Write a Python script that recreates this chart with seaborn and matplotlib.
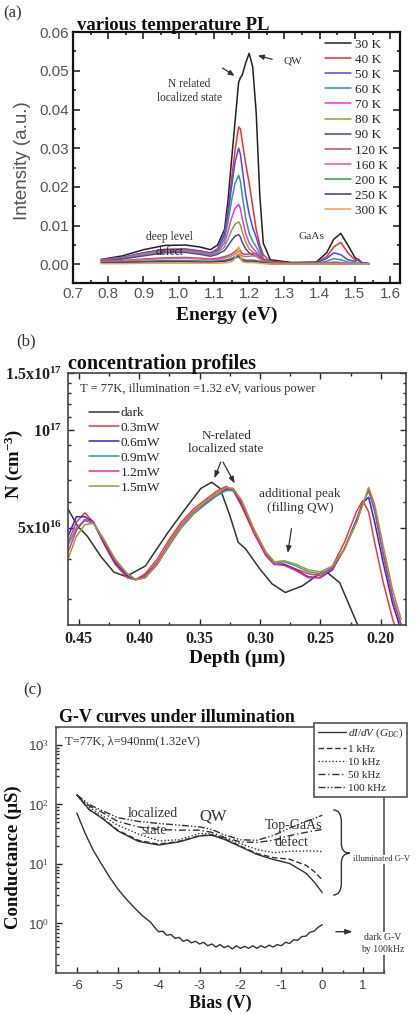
import matplotlib
matplotlib.use("Agg")
import matplotlib.pyplot as plt
import matplotlib.ticker as mticker
from matplotlib.path import Path
from matplotlib.patches import PathPatch
import seaborn as sns
import numpy as np

sns.set_style("ticks")
plt.rcParams["font.family"] = ["Liberation Serif", "DejaVu Serif"]
plt.rcParams["mathtext.fontset"] = "custom"
plt.rcParams["mathtext.rm"] = "Liberation Serif"
plt.rcParams["mathtext.it"] = "Liberation Serif:italic"
plt.rcParams["mathtext.bf"] = "Liberation Serif:bold"

# ---------------- (a) PL spectra ----------------
energy = [0.78, 0.84, 0.90, 0.96, 1.02, 1.06, 1.09, 1.11,
          1.13, 1.14, 1.15, 1.16, 1.17, 1.175, 1.18, 1.19,
          1.20, 1.21, 1.22, 1.23, 1.24, 1.26, 1.32, 1.39,
          1.42, 1.44, 1.46, 1.48, 1.50, 1.51, 1.52, 1.54]
pl_30K = [0.0013, 0.0022, 0.0038, 0.0049, 0.0050, 0.0045, 0.0038, 0.0050,
          0.0090, 0.0166, 0.0270, 0.0370, 0.0470, 0.0482, 0.0488, 0.0520,
          0.0545, 0.0510, 0.0390, 0.0180, 0.0055, 0.0012, 0.0005, 0.0006,
          0.0030, 0.0065, 0.0080, 0.0050, 0.0018, 0.0010, 0.0004, 0.0002]
pl_40K = [0.0012, 0.0018, 0.0030, 0.0039, 0.0040, 0.0035, 0.0030, 0.0040,
          0.0080, 0.0140, 0.0220, 0.0295, 0.0355, 0.0350, 0.0320, 0.0260,
          0.0210, 0.0150, 0.0090, 0.0050, 0.0025, 0.0008, 0.0004, 0.0005,
          0.0020, 0.0045, 0.0057, 0.0030, 0.0012, 0.0014, 0.0005, 0.0002]
pl_50K = [0.0012, 0.0018, 0.0030, 0.0038, 0.0039, 0.0034, 0.0029, 0.0038,
          0.0075, 0.0130, 0.0200, 0.0265, 0.0300, 0.0285, 0.0250, 0.0180,
          0.0130, 0.0095, 0.0070, 0.0040, 0.0015, 0.0006, 0.0003, 0.0004,
          0.0015, 0.0030, 0.0025, 0.0012, 0.0008, 0.0012, 0.0004, 0.0002]
pl_60K = [0.0011, 0.0017, 0.0028, 0.0036, 0.0037, 0.0032, 0.0027, 0.0035,
          0.0065, 0.0110, 0.0165, 0.0210, 0.0230, 0.0215, 0.0180, 0.0120,
          0.0080, 0.0060, 0.0045, 0.0028, 0.0012, 0.0005, 0.0003, 0.0003,
          0.0008, 0.0015, 0.0012, 0.0006, 0.0004, 0.0004, 0.0002, 0.0001]
pl_70K = [0.0011, 0.0016, 0.0027, 0.0035, 0.0036, 0.0031, 0.0026, 0.0032,
          0.0055, 0.0085, 0.0120, 0.0145, 0.0155, 0.0145, 0.0120, 0.0080,
          0.0055, 0.0042, 0.0032, 0.0022, 0.0010, 0.0004, 0.0002, 0.0002,
          0.0004, 0.0006, 0.0005, 0.0003, 0.0002, 0.0002, 0.0001, 0.0001]
pl_80K = [0.0010, 0.0015, 0.0025, 0.0033, 0.0034, 0.0029, 0.0024, 0.0030,
          0.0045, 0.0065, 0.0088, 0.0104, 0.0110, 0.0102, 0.0085, 0.0058,
          0.0040, 0.0032, 0.0026, 0.0018, 0.0009, 0.0004, 0.0002, 0.0002,
          0.0003, 0.0004, 0.0003, 0.0002, 0.0001, 0.0001, 0.0001, 0.0001]
pl_90K = [0.0009, 0.0014, 0.0022, 0.0030, 0.0031, 0.0026, 0.0021, 0.0026,
          0.0036, 0.0048, 0.0062, 0.0073, 0.0077, 0.0071, 0.0058, 0.0040,
          0.0030, 0.0025, 0.0021, 0.0015, 0.0008, 0.0003, 0.0002, 0.0002,
          0.0002, 0.0003, 0.0002, 0.0001, 0.0001, 0.0001, 0.0001, 0.0001]
pl_120K = [0.0008, 0.0010, 0.0014, 0.0017, 0.0018, 0.0016, 0.0014, 0.0016,
           0.0020, 0.0023, 0.0027, 0.0033, 0.0042, 0.0036, 0.0028, 0.0026,
           0.0027, 0.0028, 0.0028, 0.0020, 0.0010, 0.0004, 0.0002, 0.0001,
           0.0001, 0.0002, 0.0001, 0.0001, 0.0001, 0.0001, 0.0001, 0.0001]
pl_160K = [0.0007, 0.0009, 0.0012, 0.0015, 0.0016, 0.0014, 0.0012, 0.0013,
           0.0016, 0.0019, 0.0022, 0.0027, 0.0034, 0.0028, 0.0022, 0.0020,
           0.0021, 0.0022, 0.0021, 0.0015, 0.0008, 0.0003, 0.0001, 0.0001,
           0.0001, 0.0001, 0.0001, 0.0001, 0.0001, 0.0001, 0.0001, 0.0001]
pl_200K = [0.0005, 0.0006, 0.0008, 0.0010, 0.0010, 0.0009, 0.0008, 0.0009,
           0.0011, 0.0013, 0.0016, 0.0020, 0.0026, 0.0020, 0.0014, 0.0011,
           0.0011, 0.0011, 0.0010, 0.0008, 0.0005, 0.0002, 0.0001, 0.0001,
           0.0001, 0.0001, 0.0001, 0.0001, 0.0001, 0.0001, 0.0001, 0.0001]
pl_250K = [0.0004, 0.0005, 0.0006, 0.0007, 0.0007, 0.0006, 0.0006, 0.0007,
           0.0008, 0.0010, 0.0012, 0.0016, 0.0021, 0.0015, 0.0010, 0.0008,
           0.0008, 0.0008, 0.0007, 0.0006, 0.0004, 0.0002, 0.0001, 0.0001,
           0.0001, 0.0001, 0.0001, 0.0001, 0.0001, 0.0001, 0.0001, 0.0001]
pl_300K = [0.0002, 0.0002, 0.0003, 0.0003, 0.0003, 0.0003, 0.0003, 0.0003,
           0.0004, 0.0005, 0.0007, 0.0015, 0.0045, 0.0020, 0.0007, 0.0005,
           0.0005, 0.0005, 0.0004, 0.0003, 0.0002, 0.0001, 0.0001, 0.0001,
           0.0001, 0.0001, 0.0001, 0.0001, 0.0001, 0.0001, 0.0001, 0.0001]
temps = ["30 K", "40 K", "50 K", "60 K", "70 K", "80 K", "90 K",
         "120 K", "160 K", "200 K", "250 K", "300 K"]
pl_curves = [pl_30K, pl_40K, pl_50K, pl_60K, pl_70K, pl_80K, pl_90K,
             pl_120K, pl_160K, pl_200K, pl_250K, pl_300K]
pl_colors = ["#222222", "#ee3030", "#4a4af0", "#2e9a9a", "#f032e6", "#9a9a30",
             "#4848a8", "#a85858", "#ee5a9a", "#2f9a50", "#3838a0", "#f5a040"]

# ---------------- (b) concentration profiles ----------------
depth_dark = [0.459, 0.451, 0.443, 0.432, 0.421, 0.411, 0.395, 0.376,
              0.362, 0.349, 0.340, 0.333, 0.325, 0.318, 0.312, 0.300,
              0.290, 0.279, 0.265, 0.250, 0.245, 0.234, 0.219, 0.210]
n_dark = [5.7e16, 5.05e16, 4.7e16, 4.08e16, 3.64e16, 3.53e16, 3.8e16, 4.84e16,
          5.7e16, 6.6e16, 6.9e16, 6.6e16, 5.45e16, 4.5e16, 4.3e16, 3.72e16,
          3.35e16, 3.15e16, 3.3e16, 3.62e16, 3.65e16, 3.38e16, 2.5e16, 2.2e16]
depth_ill = [0.459, 0.452, 0.445, 0.438, 0.430, 0.420, 0.410, 0.403, 0.395,
             0.385, 0.375, 0.365, 0.355, 0.345, 0.335, 0.328, 0.322, 0.315,
             0.305, 0.295, 0.288, 0.280, 0.270, 0.260, 0.250, 0.240, 0.230,
             0.220, 0.215, 0.210, 0.205, 0.198, 0.190, 0.183]
n_03mW = [4.5, 5.2, 5.55, 5.2, 4.5, 3.85, 3.5, 3.45, 3.6, 4.0, 4.6, 5.2,
          5.7, 6.1, 6.5, 6.7, 6.5, 5.8, 4.8, 4.1, 3.85, 3.85, 3.72, 3.6,
          3.55, 3.8, 4.5, 5.6, 6.05, 5.6, 4.5, 3.4, 2.6, 2.2]
n_06mW = [4.7, 5.4, 5.4, 5.2, 4.55, 3.9, 3.55, 3.45, 3.55, 3.9, 4.45, 5.05,
          5.55, 5.95, 6.3, 6.55, 6.5, 5.9, 4.85, 4.1, 3.85, 3.85, 3.7, 3.52,
          3.5, 3.7, 4.3, 5.3, 5.95, 6.2, 5.2, 3.9, 2.9, 2.4]
n_09mW = [4.4, 5.0, 5.25, 5.15, 4.6, 3.95, 3.6, 3.45, 3.5, 3.85, 4.4, 5.0,
          5.5, 5.9, 6.3, 6.5, 6.5, 6.0, 4.9, 4.15, 3.88, 3.92, 3.8, 3.65,
          3.6, 3.75, 4.3, 5.2, 5.9, 6.5, 5.6, 4.1, 3.0, 2.5]
n_12mW = [4.2, 4.9, 5.3, 5.2, 4.6, 3.95, 3.6, 3.45, 3.55, 3.9, 4.5, 5.1,
          5.6, 6.0, 6.4, 6.6, 6.55, 5.95, 4.85, 4.1, 3.85, 3.82, 3.68, 3.5,
          3.5, 3.75, 4.3, 5.2, 5.9, 6.55, 5.7, 4.2, 3.05, 2.5]
n_15mW = [4.0, 4.7, 5.1, 5.15, 4.65, 4.0, 3.6, 3.45, 3.5, 3.85, 4.45, 5.05,
          5.55, 6.0, 6.4, 6.65, 6.6, 6.05, 4.95, 4.2, 3.92, 3.95, 3.85, 3.7,
          3.65, 3.8, 4.3, 5.2, 5.85, 6.65, 5.9, 4.4, 3.2, 2.6]
powers = ["0.3mW", "0.6mW", "0.9mW", "1.2mW", "1.5mW"]
n_curves = [n_03mW, n_06mW, n_09mW, n_12mW, n_15mW]
power_colors = ["#f03a3a", "#2828d8", "#2aa0a8", "#e8289a", "#a09a30"]

# ---------------- (c) G-V curves ----------------
bias = [-6.0, -5.7, -5.4, -5.0, -4.5, -4.0, -3.5, -3.0, -2.7,
        -2.4, -2.0, -1.6, -1.2, -0.8, -0.4, -0.2, 0.0]
g_dc = [145, 82, 60, 36, 24, 20.8, 23.5, 29.5, 30.5, 26, 19.5, 14.5, 11.9, 10.2, 7.0, 5.0, 3.3]
g_1k = [145, 82, 61, 37, 25, 21.5, 24, 30, 31, 26.5, 20, 15, 12.8, 12.0, 9.5, 7.5, 5.4]
g_10k = [145, 90, 66, 45, 32, 24.5, 25.5, 32.7, 32, 27, 22, 17.5, 15.5, 16.3, 16.5, 16.5, 16.1]
g_50k = [145, 95, 75, 52, 42, 38, 37, 37, 34, 28, 23.5, 23, 25, 30, 34, 36, 38]
g_100k = [145, 100, 80, 60, 52, 48, 45, 42, 38, 31, 25.5, 25, 30, 40, 52, 58, 66]
freq_labels = [r"$dI/dV\ (G_{DC})$", "1 kHz", "10 kHz", "50 kHz", "100 kHz"]
g_curves = [g_dc, g_1k, g_10k, g_50k, g_100k]
freq_styles = ["-", (0, (4, 2)), (0, (1, 1.5)), (0, (5, 2, 1, 2)), (0, (5, 1.5, 1, 1.5, 1, 1.5))]

dark_bias = [-6.0, -5.8, -5.6, -5.4, -5.2, -5.0, -4.8, -4.6, -4.4, -4.2,
             -4.1, -4.0, -3.9, -3.8, -3.7, -3.6, -3.5, -3.4, -3.3, -3.2,
             -3.1, -3.0, -2.9, -2.8, -2.7, -2.6, -2.5, -2.4, -2.3, -2.2,
             -2.1, -2.0, -1.9, -1.8, -1.7, -1.6, -1.5, -1.4, -1.3, -1.2,
             -1.1, -1.0, -0.9, -0.8, -0.7, -0.6, -0.5, -0.4, -0.3, -0.2,
             -0.1, 0.0]
dark_g = [72, 33, 17, 10, 6.0, 3.8, 2.6, 1.85, 1.35, 1.05,
          0.86, 0.72, 0.74, 0.63, 0.65, 0.56, 0.58, 0.50, 0.53, 0.47,
          0.50, 0.45, 0.48, 0.42, 0.45, 0.40, 0.44, 0.39, 0.42, 0.37,
          0.42, 0.38, 0.41, 0.38, 0.42, 0.38, 0.42, 0.39, 0.43, 0.40,
          0.44, 0.42, 0.48, 0.46, 0.53, 0.52, 0.60, 0.61, 0.71, 0.74,
          0.86, 0.95]

fig = plt.figure(figsize=(4.17, 10.14), dpi=100)
ink = "#333333"

# ===== panel (a) =====
axa = fig.add_axes([0.1751, 0.7209, 0.7841, 0.2475])
for t, vals, col in zip(temps, pl_curves, pl_colors):
    sns.lineplot(x=energy, y=vals, ax=axa, color=col, lw=1.1, label=t,
                 sort=False, estimator=None)
axa.set_xlim(0.7, 1.628)
axa.set_ylim(-0.0048, 0.06)
axa.xaxis.set_major_locator(mticker.MultipleLocator(0.1))
axa.xaxis.set_minor_locator(mticker.MultipleLocator(0.05))
axa.yaxis.set_major_locator(mticker.MultipleLocator(0.01))
axa.yaxis.set_minor_locator(mticker.MultipleLocator(0.005))
axa.xaxis.set_major_formatter(mticker.FormatStrFormatter("%.1f"))
axa.yaxis.set_major_formatter(mticker.FormatStrFormatter("%.2f"))
axa.tick_params(which="both", direction="in", top=True, right=True, width=1.2,
                labelsize=11, labelcolor="#555555", labelfontfamily="Liberation Sans", pad=3)
axa.tick_params(which="major", length=5)
axa.tick_params(which="minor", length=2.5)
for s in axa.spines.values():
    s.set_linewidth(1.6)
    s.set_color("#111111")
axa.legend(loc="upper left", bbox_to_anchor=(0.771, 0.975), frameon=False,
           fontsize=9.5, handlelength=2.0, handletextpad=0.25,
           labelspacing=0.22, borderpad=0, borderaxespad=0)
axa.set_xlabel("")
axa.set_ylabel("")
axa.text(1.323, 0.0524, "QW", fontsize=8, ha="center", va="center", color=ink)
axa.annotate("", xy=(1.217, 0.0541), xytext=(1.273, 0.0528),
             arrowprops=dict(arrowstyle="-|>,head_length=0.35,head_width=0.15", lw=0.9, color=ink))
axa.text(1.030, 0.0448, "N related\nlocalized state", fontsize=8.3, ha="center",
         va="center", color=ink, linespacing=1.25)
axa.annotate("", xy=(1.165, 0.0483), xytext=(1.118, 0.0511),
             arrowprops=dict(arrowstyle="-|>,head_length=0.35,head_width=0.15", lw=0.9, color=ink))
axa.text(0.973, 0.0070, "deep level", fontsize=8.3, ha="center", va="center", color=ink)
axa.text(0.973, 0.0031, "defect", fontsize=8.3, ha="center", va="center", color="#222222")
axa.text(1.378, 0.0073, "GaAs", fontsize=8.2, ha="center", va="center", color=ink)

fig.text(0.029, 0.987, "(a)", fontsize=12, ha="center", va="center", color=ink)
fig.text(0.185, 0.9705, "various temperature PL", fontsize=13.5, fontweight="bold",
         ha="left", va="baseline", color="#111111")
fig.text(0.053, 0.842, "Intensity (a.u.)", fontsize=13.5, rotation=90, ha="center",
         va="center", color="#555555", family="Liberation Sans")
fig.text(0.544, 0.698, "Energy (eV)", fontsize=14, fontweight="bold", ha="center",
         va="top", color="#111111")

# ===== panel (b) =====
axb = fig.add_axes([0.1631, 0.3836, 0.8106, 0.2486])
sns.lineplot(x=depth_dark, y=n_dark, ax=axb, color="#333333", lw=1.1, label="dark",
             sort=False, estimator=None)
for p, vals, col in zip(powers, n_curves, power_colors):
    sns.lineplot(x=depth_ill, y=[v * 1e16 for v in vals], ax=axb, color=col, lw=1.1,
                 label=p, sort=False, estimator=None)
axb.set_yscale("log")
axb.set_xlim(0.459, 0.179)
axb.set_ylim(2.5e16, 1.5e17)
axb.yaxis.set_major_locator(mticker.FixedLocator([5e16, 1e17, 1.5e17]))
axb.yaxis.set_major_formatter(mticker.FixedFormatter(
    [r"$\mathbf{5x10^{16}}$", r"$\mathbf{10^{17}}$", r"$\mathbf{1.5x10^{17}}$"]))
axb.yaxis.set_minor_locator(mticker.FixedLocator(
    [3e16, 4e16, 6e16, 7e16, 8e16, 9e16, 1.1e17, 1.2e17, 1.3e17, 1.4e17]))
axb.yaxis.set_minor_formatter(mticker.NullFormatter())
axb.xaxis.set_major_locator(mticker.MultipleLocator(0.05))
axb.xaxis.set_minor_locator(mticker.MultipleLocator(0.025))
axb.xaxis.set_major_formatter(mticker.FormatStrFormatter("%.2f"))
axb.tick_params(which="both", direction="in", top=True, right=True, width=1.0,
                labelsize=11.5, labelcolor="#222222", pad=4)
axb.tick_params(which="major", length=4)
axb.tick_params(which="minor", length=2.5)
for lab in axb.get_xticklabels():
    lab.set_fontweight("bold")
for s in axb.spines.values():
    s.set_linewidth(1.2)
    s.set_color("#444444")
axb.legend(loc="upper left", bbox_to_anchor=(0.062, 0.865), frameon=False,
           fontsize=9.5, handlelength=2.3, handletextpad=0.1,
           labelspacing=0.2, borderpad=0, borderaxespad=0)
axb.set_xlabel("")
axb.set_ylabel("")
axb.text(0.449, 1.34e17, "T = 77K, illumination =1.32 eV, various power", fontsize=9,
         ha="left", va="center", color=ink)
axb.text(0.328, 9.15e16, "N-related\nlocalized state", fontsize=9.5, ha="center",
         va="center", color=ink, linespacing=1.2)
for hx, hy in [(0.3386, 6.97e16), (0.3198, 6.72e16)]:
    axb.annotate("", xy=(hx, hy), xytext=(0.3317, 8.1e16),
                 arrowprops=dict(arrowstyle="-|>,head_length=0.4,head_width=0.15", lw=0.9, color=ink))
axb.text(0.2667, 6.03e16, "additional peak\n(filling QW)", fontsize=9.5, ha="center",
         va="center", color=ink, linespacing=1.2)
axb.annotate("", xy=(0.2773, 4.09e16), xytext=(0.2736, 5.06e16),
             arrowprops=dict(arrowstyle="-|>,head_length=0.4,head_width=0.15", lw=0.9, color=ink))

fig.text(0.062, 0.663, "(b)", fontsize=12, ha="center", va="center", color=ink)
fig.text(0.163, 0.636, "concentration profiles", fontsize=14.5, fontweight="bold",
         ha="left", va="baseline", color="#111111")
fig.text(0.005, 0.543, r"$\mathbf{N\ (cm^{-3})}$", fontsize=13.5, rotation=90,
         ha="left", va="center", color="#111111")
fig.text(0.568, 0.359, "Depth (µm)", fontsize=14, fontweight="bold", ha="center",
         va="top", color="#111111")

# ===== panel (c) =====
axc = fig.add_axes([0.1343, 0.0404, 0.7866, 0.2426])
for lab, vals, ls in zip(freq_labels, g_curves, freq_styles):
    sns.lineplot(x=bias, y=vals, ax=axc, color="#333333", lw=1.0, linestyle=ls,
                 label=lab, sort=False, estimator=None)
sns.lineplot(x=dark_bias, y=dark_g, ax=axc, color="#333333", lw=1.0,
             sort=False, estimator=None)
axc.set_yscale("log")
axc.set_xlim(-6.51, 1.51)
axc.set_ylim(0.146, 2010)
axc.xaxis.set_major_locator(mticker.MultipleLocator(1))
axc.xaxis.set_minor_locator(mticker.MultipleLocator(0.5))
axc.xaxis.set_major_formatter(mticker.FuncFormatter(lambda v, p: "%d" % round(v)))
axc.yaxis.set_major_locator(mticker.LogLocator(base=10, numticks=10))
axc.yaxis.set_minor_locator(mticker.LogLocator(base=10, subs=np.arange(2, 10), numticks=10))
axc.yaxis.set_major_formatter(mticker.FuncFormatter(lambda v, p: "10$^{%d}$" % round(np.log10(v))))
axc.yaxis.set_minor_formatter(mticker.NullFormatter())
axc.tick_params(which="both", direction="in", width=1.0, labelsize=9.5,
                labelcolor="#444444", labelfontfamily="Liberation Sans", pad=5)
axc.tick_params(which="major", length=4)
axc.tick_params(which="minor", length=2.5)
for s in axc.spines.values():
    s.set_linewidth(1.2)
    s.set_color("#555555")
leg = axc.legend(loc="upper left", bbox_to_anchor=(314 / 417, 1 - 723 / 1014),
                 bbox_transform=fig.transFigure, frameon=True, fancybox=False,
                 edgecolor="#555555", framealpha=1, fontsize=8, handlelength=2.5,
                 handletextpad=0.2, labelspacing=0.3, borderpad=0.35, borderaxespad=0)
leg.get_frame().set_linewidth(1.2)
axc.set_xlabel("")
axc.set_ylabel("")
axc.text(-6.30, 1140, "T=77K, λ=940nm(1.32eV)", fontsize=9, ha="left", va="center", color=ink)
axc.text(-4.14, 71, "localized", fontsize=10, ha="center", va="center", color=ink, zorder=1)
axc.text(-4.10, 36, "state", fontsize=10, ha="center", va="center", color=ink, zorder=1)
axc.text(-2.67, 62, "QW", fontsize=12, ha="center", va="center", color=ink, zorder=1)
axc.text(-0.71, 44, "Top-GaAs", fontsize=10, ha="center", va="center", color=ink, zorder=1)
axc.text(-0.76, 22.8, "defect", fontsize=10, ha="center", va="center", color=ink, zorder=1)

# curly brace and side notes (axes coordinates)
x0, xm, x1 = 0.845, 0.870, 0.896
yt, ymid, yb = 0.663, 0.487, 0.317
brace = Path([(x0, yt), (xm, yt), (xm, yt - 0.05), (xm, ymid + 0.04), (xm, ymid), (x1, ymid),
              (xm, ymid), (xm, ymid - 0.04), (xm, yb + 0.05), (xm, yb), (x0, yb)],
             [Path.MOVETO, Path.CURVE3, Path.CURVE3, Path.LINETO, Path.CURVE3, Path.CURVE3,
              Path.CURVE3, Path.CURVE3, Path.LINETO, Path.CURVE3, Path.CURVE3])
axc.add_patch(PathPatch(brace, transform=axc.transAxes, fill=False, lw=1.0,
                        edgecolor=ink, clip_on=False))
axc.text(0.905, 0.463, "illuminated G-V", transform=axc.transAxes, fontsize=6.2,
         ha="left", va="center", color=ink, clip_on=False,
         bbox=dict(facecolor="white", edgecolor="none", pad=0.3))
axc.annotate("", xy=(0.912, 0.168), xytext=(0.845, 0.168), xycoords="axes fraction",
             arrowprops=dict(arrowstyle="-|>,head_length=0.4,head_width=0.15", lw=1.0, color=ink))
axc.text(0.996, 0.120, "dark G-V\nby 100kHz", transform=axc.transAxes, fontsize=7,
         ha="center", va="center", color=ink, clip_on=False, linespacing=1.4,
         bbox=dict(facecolor="white", edgecolor="none", pad=0.5))

fig.text(0.077, 0.319, "(c)", fontsize=12, ha="center", va="center", color=ink)
fig.text(0.141, 0.288, "G-V curves under illumination", fontsize=13, fontweight="bold",
         ha="left", va="baseline", color="#111111")
fig.text(0.031, 0.155, "Conductance (µS)", fontsize=13.5, fontweight="bold", rotation=90,
         ha="center", va="center", color="#111111")
fig.text(0.528, 0.002, "Bias (V)", fontsize=13, fontweight="bold", ha="center",
         va="bottom", color="#111111")

fig.savefig("out.png", dpi=100)
